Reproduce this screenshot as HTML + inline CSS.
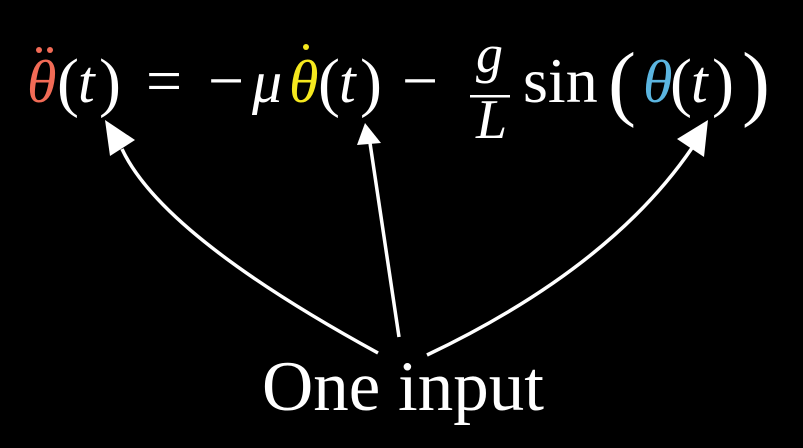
<!DOCTYPE html>
<html><head><style>
html,body{margin:0;padding:0;background:#000;}
svg{display:block}
text{font-family:"Liberation Serif",serif;fill:#fff}
</style></head><body>
<svg width="803" height="448" viewBox="0 0 803 448">
<rect width="803" height="448" fill="#000"/>
<g font-size="60">
<text x="27" y="102" font-style="italic" style="fill:#f26b56">θ</text>
<circle cx="39" cy="50" r="3" fill="#f26b56"/><circle cx="50" cy="50" r="3" fill="#f26b56"/>
<text x="57" y="104" font-size="66">(</text>
<text x="78" y="102" font-style="italic">t</text>
<text x="99" y="104" font-size="66">)</text>
<text x="146" y="102" font-size="64">=</text>
<text x="208" y="102" font-size="64">−</text>
<text x="252" y="102" font-style="italic">μ</text>
<text x="289" y="102" font-style="italic" style="fill:#f5e81e">θ</text>
<circle cx="306" cy="47" r="3" fill="#f5e81e"/>
<text x="318" y="104" font-size="66">(</text>
<text x="339" y="102" font-style="italic">t</text>
<text x="360" y="104" font-size="66">)</text>
<text x="402" y="102" font-size="64">−</text>
<text x="476" y="72" font-style="italic" font-size="54">g</text>
<rect x="470" y="95" width="40" height="2.5" fill="#fff"/>
<text x="476" y="138" font-style="italic" font-size="56">L</text>
<text x="523" y="102" font-size="64">sin</text>
<text x="608" y="110" font-size="84">(</text>
<text x="643" y="102" font-style="italic" style="fill:#5bb5e0">θ</text>
<text x="670" y="104" font-size="66">(</text>
<text x="691" y="102" font-style="italic">t</text>
<text x="712" y="104" font-size="66">)</text>
<text x="742" y="110" font-size="84">)</text>
</g>
<g fill="none" stroke="#fff" stroke-width="3.5">
<path d="M378,353 Q162,235 122,149"/>
<path d="M399,337 L370,143"/>
<path d="M427,355 Q610,268 692,148"/>
</g>
<g fill="#fff">
<polygon points="105,120 110,156 135,140"/>
<polygon points="365,123 357,145 381,143"/>
<polygon points="708,120 677,139 704,157"/>
</g>
<text x="262" y="410" font-size="71">One input</text>
</svg>
</body></html>
